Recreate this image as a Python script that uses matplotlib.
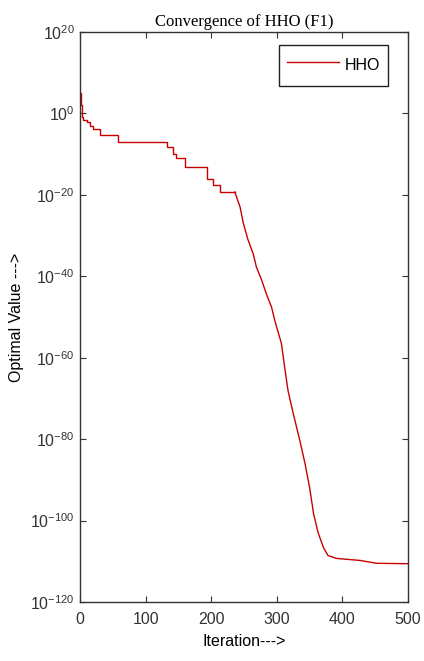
import numpy as np
import matplotlib
matplotlib.use('Agg')
import matplotlib.pyplot as plt

# convergence curve (iteration, log10 of best value)
iterations = [0, 1, 3, 5, 10, 15, 20, 30, 56, 58, 66, 127, 132, 142, 147, 160,
              186, 193, 203, 213, 236, 244, 249, 256, 264, 269, 277, 284, 292,
              297, 307, 312, 317, 325, 335, 343, 350, 356, 363, 371, 378, 391,
              427, 452, 500]
log_best = [5, 2, -1.0, -1.7, -2.2, -3.0, -3.8, -5.2, -5.2, -7.0, -7.0, -7.0,
            -8.3, -9.9, -11.0, -13.2, -13.2, -16.0, -17.7, -19.3, -19.3, -23.0,
            -27.0, -31.0, -34.5, -37.8, -41.0, -44.3, -47.6, -50.9, -56.5,
            -62.4, -68.0, -73.7, -80.3, -86.0, -91.9, -98.3, -103.0, -106.6,
            -108.6, -109.3, -109.8, -110.5, -110.6]
series_name = 'HHO'
x_ticks = [0, 100, 200, 300, 400, 500]
y_exps = [20, 0, -20, -40, -60, -80, -100, -120]

plt.rcParams['font.family'] = 'Liberation Sans'
plt.rcParams['mathtext.fontset'] = 'custom'
plt.rcParams['mathtext.rm'] = 'Liberation Sans'
plt.rcParams['mathtext.default'] = 'regular'

fig = plt.figure(figsize=(4.24, 6.61), dpi=100)
ax = fig.add_axes([0.1887, 0.0893, 0.7736, 0.8623])

it = np.array(iterations)
best = 10.0 ** np.array(log_best)
# stair-like upper part, near-continuous steep part
k = iterations.index(236)
ax.plot(it[:k + 1], best[:k + 1], color='#c80000', lw=1.0, drawstyle='steps-post')
ax.plot(it[k:], best[k:], color='#c80000', lw=1.0, label=series_name)

ax.set_yscale('log')
ax.set_xlim(0, 500)
ax.set_ylim(10.0 ** -120, 10.0 ** 20)
ax.set_xticks(x_ticks)
ax.set_yticks([10.0 ** e for e in y_exps])
ax.set_yticklabels([r'$10^{%d}$' % e for e in y_exps])
ax.minorticks_off()
ax.tick_params(direction='in', length=4, width=0.8, top=True, right=True,
               labelsize=11.5, colors='#333333', pad=4)
ax.tick_params(axis='x', pad=7)
for s in ax.spines.values():
    s.set_color('#333333')
    s.set_linewidth(1.0)

ax.set_title('Convergence of HHO (F1)', family='Liberation Serif', fontsize=12, pad=4)
ax.set_xlabel('Iteration--->', fontsize=11.5, labelpad=5)
ax.set_ylabel('Optimal Value --->', fontsize=11.5, labelpad=4)

leg = ax.legend(loc='upper right', fontsize=11.5, fancybox=False, framealpha=1,
                edgecolor='#222222', borderpad=0.5, handlelength=3.3,
                handleheight=2.0, handletextpad=0.35, borderaxespad=0,
                bbox_to_anchor=(0.94, 0.977))
leg.get_frame().set_linewidth(1.0)

fig.savefig('out.png', dpi=100)
